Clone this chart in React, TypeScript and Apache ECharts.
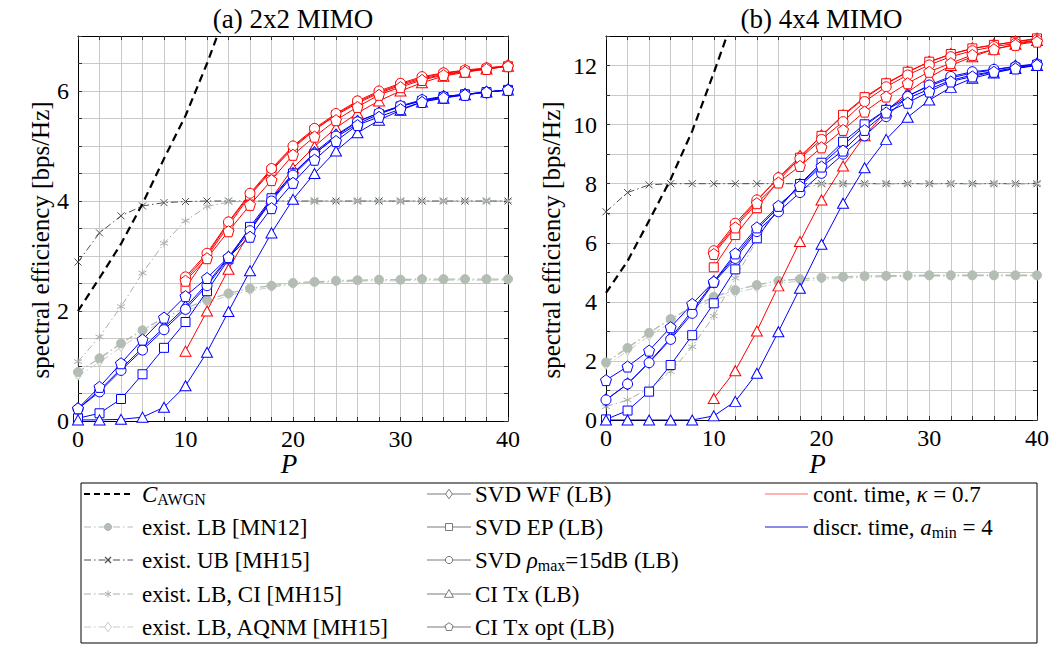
import React, { useEffect, useRef } from "react";
import * as echarts from "echarts";

// ---------- data ----------
const P_ALL = [0, 2, 4, 6, 8, 10, 12, 14, 16, 18, 20, 22, 24, 26, 28, 30, 32, 34, 36, 38, 40];
const P_CONT = [10, 12, 14, 16, 18, 20, 22, 24, 26, 28, 30, 32, 34, 36, 38, 40];
const X_TICK_LABELS = ["0", "10", "20", "30", "40"];

// (a) 2x2 MIMO
const A_AWGN_P = [0, 2, 4, 6, 8, 10, 12, 14];
const A_AWGN = [2.0, 2.6, 3.22, 3.95, 4.77, 5.55, 6.5, 7.55];
const A_MN12 = [0.89, 1.14, 1.41, 1.65, 1.88, 2.05, 2.2, 2.32, 2.41, 2.46, 2.51, 2.53, 2.55, 2.56, 2.57, 2.57, 2.58, 2.58, 2.58, 2.58, 2.58];
const A_UB = [2.89, 3.42, 3.73, 3.91, 3.97, 3.99, 4, 4, 4, 4, 4, 4, 4, 4, 4, 4, 4, 4, 4, 4, 4];
const A_CI = [1.08, 1.53, 2.08, 2.69, 3.23, 3.64, 3.9, 3.98, 4, 4, 4, 4, 4, 4, 4, 4, 4, 4, 4, 4, 4];
const A_AQNM = [0.82, 1.07, 1.34, 1.6, 1.83, 2.0, 2.15, 2.28, 2.37, 2.43, 2.48, 2.51, 2.53, 2.54, 2.55, 2.55, 2.56, 2.56, 2.56, 2.56, 2.56];
const A_CONT_WF = [2.58, 3.02, 3.6, 4.12, 4.57, 4.98, 5.3, 5.57, 5.8, 5.98, 6.12, 6.24, 6.32, 6.37, 6.41, 6.46];
const A_CONT_EP = [2.42, 2.99, 3.55, 4.1, 4.55, 4.96, 5.29, 5.56, 5.78, 5.96, 6.1, 6.22, 6.3, 6.36, 6.4, 6.45];
const A_CONT_RHO = [2.62, 3.05, 3.62, 4.14, 4.59, 5.0, 5.32, 5.59, 5.82, 6.0, 6.14, 6.26, 6.33, 6.38, 6.42, 6.46];
const A_CONT_CI = [1.27, 2.0, 2.76, 3.45, 4.05, 4.6, 4.99, 5.33, 5.6, 5.82, 6.0, 6.15, 6.27, 6.34, 6.4, 6.45];
const A_CONT_CIOPT = [2.55, 2.96, 3.45, 3.93, 4.38, 4.84, 5.17, 5.47, 5.71, 5.93, 6.07, 6.2, 6.29, 6.35, 6.4, 6.45];
const A_DISC_WF = [0.22, 0.56, 0.95, 1.33, 1.7, 2.07, 2.5, 2.98, 3.5, 4.02, 4.5, 4.88, 5.2, 5.45, 5.6, 5.72, 5.83, 5.9, 5.94, 5.98, 6.02];
const A_DISC_EP = [0.05, 0.14, 0.4, 0.85, 1.33, 1.8, 2.36, 2.94, 3.53, 4.05, 4.5, 4.86, 5.16, 5.4, 5.58, 5.72, 5.82, 5.89, 5.94, 5.98, 6.02];
const A_DISC_RHO = [0.22, 0.53, 0.92, 1.29, 1.66, 2.03, 2.46, 2.96, 3.46, 4.0, 4.47, 4.85, 5.18, 5.44, 5.6, 5.73, 5.84, 5.9, 5.94, 5.98, 6.02];
const A_DISC_CI = [0.02, 0.02, 0.03, 0.07, 0.25, 0.64, 1.25, 1.99, 2.73, 3.42, 4.03, 4.5, 4.91, 5.24, 5.47, 5.65, 5.8, 5.87, 5.93, 5.98, 6.02];
const A_DISC_CIOPT = [0.23, 0.62, 1.05, 1.48, 1.88, 2.27, 2.6, 2.98, 3.35, 3.87, 4.33, 4.75, 5.09, 5.38, 5.53, 5.67, 5.8, 5.88, 5.93, 5.98, 6.02];

// (b) 4x4 MIMO
const B_AWGN_P = [0, 2, 4, 6, 8, 10, 12];
const B_AWGN = [4.3, 5.38, 6.75, 8.15, 9.78, 11.75, 13.8];
const B_MN12 = [1.95, 2.44, 2.95, 3.42, 3.82, 4.17, 4.4, 4.57, 4.71, 4.77, 4.82, 4.85, 4.87, 4.88, 4.89, 4.9, 4.9, 4.9, 4.9, 4.9, 4.9];
const B_UB = [7.05, 7.7, 7.96, 8, 8, 8, 8, 8, 8, 8, 8, 8, 8, 8, 8, 8, 8, 8, 8, 8, 8];
const B_CI = [0.45, 0.68, 1.07, 1.64, 2.48, 3.52, 4.8, 6.1, 7.3, 7.85, 7.98, 8, 8, 8, 8, 8, 8, 8, 8, 8, 8];
const B_AQNM = [1.85, 2.33, 2.84, 3.3, 3.72, 4.06, 4.3, 4.48, 4.62, 4.7, 4.76, 4.8, 4.83, 4.85, 4.86, 4.87, 4.87, 4.88, 4.88, 4.88, 4.88];
const B_CONT_WF = [5.68, 6.58, 7.42, 8.2, 8.92, 9.62, 10.3, 10.9, 11.38, 11.78, 12.12, 12.38, 12.57, 12.7, 12.8, 12.9];
const B_CONT_EP = [5.17, 6.26, 7.17, 8.1, 8.88, 9.62, 10.33, 10.93, 11.4, 11.79, 12.13, 12.39, 12.58, 12.7, 12.81, 12.92];
const B_CONT_RHO = [5.73, 6.66, 7.45, 8.2, 8.85, 9.5, 10.1, 10.78, 11.28, 11.68, 12.02, 12.3, 12.5, 12.64, 12.75, 12.87];
const B_CONT_CI = [0.73, 1.67, 3.01, 4.54, 6.04, 7.45, 8.6, 9.62, 10.45, 11.1, 11.6, 12.0, 12.3, 12.55, 12.72, 12.85];
const B_CONT_CIOPT = [5.62, 6.52, 7.34, 8.04, 8.6, 9.23, 9.82, 10.44, 10.95, 11.4, 11.79, 12.08, 12.36, 12.55, 12.7, 12.81];
const B_DISC_WF = [0.68, 1.22, 1.96, 2.78, 3.7, 4.68, 5.55, 6.45, 7.2, 7.97, 8.65, 9.3, 9.95, 10.5, 10.98, 11.3, 11.58, 11.75, 11.85, 11.98, 12.05];
const B_DISC_EP = [0.02, 0.32, 0.96, 1.86, 2.87, 3.95, 5.1, 6.15, 7.15, 7.99, 8.71, 9.42, 10.01, 10.5, 10.89, 11.2, 11.5, 11.68, 11.8, 11.93, 12.03];
const B_DISC_RHO = [0.68, 1.22, 1.94, 2.73, 3.61, 4.65, 5.47, 6.38, 7.05, 7.7, 8.35, 9.0, 9.62, 10.27, 10.95, 11.34, 11.63, 11.79, 11.87, 11.96, 12.05];
const B_DISC_CI = [0, 0, 0, 0, 0, 0.14, 0.63, 1.58, 2.99, 4.46, 5.95, 7.34, 8.54, 9.5, 10.25, 10.83, 11.26, 11.57, 11.75, 11.9, 12.0];
const B_DISC_CIOPT = [1.35, 1.81, 2.35, 3.14, 3.93, 4.68, 5.64, 6.52, 7.25, 7.92, 8.58, 9.12, 9.82, 10.41, 10.74, 11.12, 11.46, 11.63, 11.79, 11.9, 12.02];

const TITLES = ["(a) 2x2 MIMO", "(b) 4x4 MIMO"];
const Y_NAME = "spectral efficiency [bps/Hz]";
const LEGEND_COL1 = ["{i|C}{s|AWGN}", "exist. LB [MN12]", "exist. UB [MH15]", "exist. LB, CI [MH15]", "exist. LB, AQNM [MH15]"];
const LEGEND_COL2 = ["SVD WF (LB)", "SVD EP (LB)", "SVD {i|ρ}{s|max}=15dB (LB)", "CI Tx (LB)", "CI Tx opt (LB)"];
const LEGEND_COL3 = ["cont. time, {i|κ} = 0.7", "discr. time, {i|a}{s|min} = 4"];

// ---------- styles ----------
const FONT = "'Liberation Serif', 'Times New Roman', serif";
const RED = "#ff0000";
const BLUE = "#0000ff";
const G_MN = "#b3bdb3";
const G_UB = "#4d4d4d";
const G_CI = "#a7b1a7";
const G_AQ = "#c6cdc6";

const PENTAGON = "path://M50,0L97.55,34.55L79.39,90.45L20.61,90.45L2.45,34.55Z";
const CROSS = "path://M0,0L10,10M10,0L0,10";
const STAR = "path://M5,0L5,10M0.67,2.5L9.33,7.5M0.67,7.5L9.33,2.5";
const DASHDOT = [7, 3, 1.5, 3];

const zip = (xs: number[], ys: number[]) => xs.map((x, i) => [x, ys[i]]);

function ln(gi: number, name: string, xs: number[], ys: number[], o: any) {
  return {
    type: "line",
    name,
    xAxisIndex: gi * 2,
    yAxisIndex: gi * 2,
    data: zip(xs, ys),
    symbol: o.symbol ?? "none",
    symbolSize: o.size ?? 8,
    showSymbol: o.symbol ? true : false,
    showAllSymbol: true,
    clip: true,
    silent: true,
    z: o.z ?? 3,
    lineStyle: { color: o.color, width: o.width ?? 1, type: o.type ?? "solid" },
    itemStyle: { color: o.fill ?? "#fff", borderColor: o.color, borderWidth: o.bw ?? 1 },
    emphasis: { disabled: true },
  };
}

const MARKS: Record<string, { symbol: string; size: any }> = {
  wf: { symbol: "diamond", size: [9, 12] },
  ep: { symbol: "rect", size: 9 },
  rho: { symbol: "circle", size: 10 },
  ci: { symbol: "triangle", size: [11, 10] },
  ciopt: { symbol: PENTAGON, size: 11 },
};

function seriesFor(gi: number, d: any) {
  const out: any[] = [];
  out.push(ln(gi, "aqnm", P_ALL, d.aqnm, { color: G_AQ, symbol: "diamond", size: [6, 8], type: DASHDOT, fill: "#fff", z: 2 }));
  out.push(ln(gi, "mn12", P_ALL, d.mn12, { color: G_MN, symbol: "circle", size: 9, type: DASHDOT, fill: G_MN, z: 2, width: 1.4 }));
  out.push(ln(gi, "ub", P_ALL, d.ub, { color: G_UB, symbol: CROSS, size: 7, type: DASHDOT, fill: "rgba(0,0,0,0)", z: 2 }));
  out.push(ln(gi, "ci_lb", P_ALL, d.ci, { color: G_CI, symbol: STAR, size: 8, type: DASHDOT, fill: "rgba(0,0,0,0)", z: 2 }));
  const keys = ["wf", "ep", "rho", "ci", "ciopt"];
  keys.forEach((k) => {
    out.push(ln(gi, "cont_" + k, P_CONT, d.cont[k], { color: RED, symbol: MARKS[k].symbol, size: MARKS[k].size, z: 3 }));
  });
  keys.forEach((k) => {
    out.push(ln(gi, "disc_" + k, P_ALL, d.disc[k], { color: BLUE, symbol: MARKS[k].symbol, size: MARKS[k].size, z: 4 }));
  });
  out.push(ln(gi, "awgn", d.awgnP, d.awgn, { color: "#000", width: 2.2, type: [8, 5], z: 5 }));
  return out;
}

const DATA_A = {
  awgnP: A_AWGN_P, awgn: A_AWGN, mn12: A_MN12, ub: A_UB, ci: A_CI, aqnm: A_AQNM,
  cont: { wf: A_CONT_WF, ep: A_CONT_EP, rho: A_CONT_RHO, ci: A_CONT_CI, ciopt: A_CONT_CIOPT },
  disc: { wf: A_DISC_WF, ep: A_DISC_EP, rho: A_DISC_RHO, ci: A_DISC_CI, ciopt: A_DISC_CIOPT },
};
const DATA_B = {
  awgnP: B_AWGN_P, awgn: B_AWGN, mn12: B_MN12, ub: B_UB, ci: B_CI, aqnm: B_AQNM,
  cont: { wf: B_CONT_WF, ep: B_CONT_EP, rho: B_CONT_RHO, ci: B_CONT_CI, ciopt: B_CONT_CIOPT },
  disc: { wf: B_DISC_WF, ep: B_DISC_EP, rho: B_DISC_RHO, ci: B_DISC_CI, ciopt: B_DISC_CIOPT },
};

const TICK = { show: true, inside: true, length: 4, lineStyle: { color: "#333", width: 1 } };
const AXLINE = { show: true, onZero: false, lineStyle: { color: "#000", width: 1 } };
const LABEL_FONT = { fontFamily: FONT, fontSize: 24, color: "#000" };

function xAxes(gi: number) {
  return [
    {
      type: "value", gridIndex: gi, min: 0, max: 40, interval: 2, position: "bottom",
      axisLine: AXLINE, axisTick: TICK,
      axisLabel: {
        ...LABEL_FONT, interval: 0, margin: 6,
        formatter: (v: number) => (X_TICK_LABELS.includes(String(v)) ? String(v) : ""),
      },
      splitLine: { show: true, lineStyle: { color: "#c9c9c9", width: 1 } },
    },
    {
      type: "value", gridIndex: gi, min: 0, max: 40, interval: 2, position: "top",
      axisLine: AXLINE, axisTick: TICK, axisLabel: { show: false }, splitLine: { show: false },
    },
  ];
}
function yAxes(gi: number, max: number, step: number) {
  return [
    {
      type: "value", gridIndex: gi, min: 0, max, interval: step, position: "left",
      axisLine: AXLINE, axisTick: TICK,
      axisLabel: {
        ...LABEL_FONT, interval: 0, margin: 9,
        formatter: (v: number) => (Math.abs(v % 2) < 1e-9 ? String(v) : ""),
      },
      splitLine: { show: true, lineStyle: { color: "#c9c9c9", width: 1 } },
    },
    {
      type: "value", gridIndex: gi, min: 0, max, interval: step, position: "right",
      axisLine: AXLINE, axisTick: TICK, axisLabel: { show: false }, splitLine: { show: false },
    },
  ];
}

// ---------- legend graphics ----------
const LEG = { x: 81, y: 483, w: 956, h: 160 };
const ROWS = [494, 527, 560, 594, 627];
const RICH = {
  i: { fontFamily: FONT, fontSize: 23, fontStyle: "italic", color: "#000" },
  s: { fontFamily: FONT, fontSize: 16, color: "#000", padding: [11, 0, 0, 0] },
};

function txt(x: number, y: number, text: string, extra: any = {}) {
  return {
    type: "text", x, y, silent: true,
    style: { text, fontFamily: FONT, fontSize: 23, fill: "#000", textVerticalAlign: "middle", rich: RICH, ...extra },
  };
}

function marker(kind: string, cx: number, cy: number, color: string, fill: string) {
  const st = { fill, stroke: color, lineWidth: 1 };
  if (kind === "circle") return { type: "circle", shape: { cx, cy, r: 3.6 }, style: st };
  if (kind === "diamond")
    return { type: "polygon", shape: { points: [[cx, cy - 4.8], [cx + 3.4, cy], [cx, cy + 4.8], [cx - 3.4, cy]] }, style: st };
  if (kind === "rect") return { type: "rect", shape: { x: cx - 3.5, y: cy - 3.5, width: 7, height: 7 }, style: st };
  if (kind === "triangle")
    return { type: "polygon", shape: { points: [[cx, cy - 4.5], [cx + 4.5, cy + 3.3], [cx - 4.5, cy + 3.3]] }, style: st };
  if (kind === "pentagon") {
    const pts: number[][] = [];
    for (let k = 0; k < 5; k++) {
      const a = -Math.PI / 2 + (k * 2 * Math.PI) / 5;
      pts.push([cx + 4.3 * Math.cos(a), cy + 4.3 * Math.sin(a)]);
    }
    return { type: "polygon", shape: { points: pts }, style: st };
  }
  if (kind === "cross")
    return {
      type: "group",
      children: [
        { type: "line", shape: { x1: cx - 3, y1: cy - 3, x2: cx + 3, y2: cy + 3 }, style: { stroke: color, lineWidth: 1.2 } },
        { type: "line", shape: { x1: cx + 3, y1: cy - 3, x2: cx - 3, y2: cy + 3 }, style: { stroke: color, lineWidth: 1.2 } },
      ],
    };
  // star
  return {
    type: "group",
    children: [
      { type: "line", shape: { x1: cx, y1: cy - 3.5, x2: cx, y2: cy + 3.5 }, style: { stroke: color, lineWidth: 1 } },
      { type: "line", shape: { x1: cx - 3, y1: cy - 1.8, x2: cx + 3, y2: cy + 1.8 }, style: { stroke: color, lineWidth: 1 } },
      { type: "line", shape: { x1: cx - 3, y1: cy + 1.8, x2: cx + 3, y2: cy - 1.8 }, style: { stroke: color, lineWidth: 1 } },
    ],
  };
}

function legendGraphics() {
  const g: any[] = [];
  g.push({ type: "rect", shape: { x: LEG.x, y: LEG.y, width: LEG.w, height: LEG.h }, style: { fill: "#fff", stroke: "#000", lineWidth: 1 } });
  const c1 = [
    { color: "#000", dash: [6, 4], width: 2, mk: null, fill: "" },
    { color: G_MN, dash: DASHDOT, width: 1, mk: "circle", fill: G_MN },
    { color: G_UB, dash: DASHDOT, width: 1, mk: "cross", fill: "none" },
    { color: G_CI, dash: DASHDOT, width: 1, mk: "star", fill: "none" },
    { color: G_AQ, dash: DASHDOT, width: 1, mk: "diamond", fill: "#fff" },
  ];
  c1.forEach((e, i) => {
    g.push({ type: "line", shape: { x1: 84, y1: ROWS[i], x2: 133, y2: ROWS[i] }, style: { stroke: e.color, lineWidth: e.width, lineDash: e.dash } });
    if (e.mk) g.push(marker(e.mk, 108, ROWS[i], e.color, e.fill));
    g.push(txt(142, ROWS[i], LEGEND_COL1[i]));
  });
  const c2 = ["diamond", "rect", "circle", "triangle", "pentagon"];
  c2.forEach((k, i) => {
    g.push({ type: "line", shape: { x1: 427, y1: ROWS[i], x2: 471, y2: ROWS[i] }, style: { stroke: "#7a7a7a", lineWidth: 1 } });
    g.push(marker(k, 449, ROWS[i], "#7a7a7a", "#fff"));
    g.push(txt(475, ROWS[i], LEGEND_COL2[i]));
  });
  const c3 = ["#ff6a6a", "#1a1ad0"];
  c3.forEach((c, i) => {
    g.push({ type: "line", shape: { x1: 765, y1: ROWS[i], x2: 808, y2: ROWS[i] }, style: { stroke: c, lineWidth: 1.2 } });
    g.push(txt(813, ROWS[i], LEGEND_COL3[i]));
  });
  return g;
}

const GRIDS = [
  { left: 78, top: 36, width: 430, height: 385 },
  { left: 606, top: 36, width: 431, height: 384 },
];

function buildOption() {
  const graphic: any[] = [];
  GRIDS.forEach((gr, i) => {
    const cx = gr.left + gr.width / 2;
    graphic.push(txt(cx, 19, TITLES[i], { textAlign: "center", fontSize: 27 }));
    graphic.push(txt(cx - 4, 464, "P", { textAlign: "center", fontSize: 27, fontStyle: "italic" }));
  });
  [40, 551].forEach((x) => {
    graphic.push({
      type: "text", x, y: 240, rotation: Math.PI / 2, silent: true,
      style: { text: Y_NAME, fontFamily: FONT, fontSize: 25, fill: "#000", textAlign: "center", textVerticalAlign: "middle" },
    });
  });
  graphic.push(...legendGraphics());

  return {
    animation: false,
    backgroundColor: "#fff",
    grid: GRIDS.map((g) => ({ ...g, containLabel: false })),
    xAxis: [...xAxes(0), ...xAxes(1)],
    yAxis: [...yAxes(0, 7, 0.5), ...yAxes(1, 13, 1)],
    series: [...seriesFor(0, DATA_A), ...seriesFor(1, DATA_B)],
    graphic,
  };
}

export default function App() {
  const ref = useRef<HTMLDivElement>(null);
  useEffect(() => {
    if (!ref.current) return;
    const chart = echarts.init(ref.current, null, { renderer: "svg" });
    chart.setOption(buildOption() as any);
    return () => chart.dispose();
  }, []);
  return (
    <div
      ref={ref}
      style={{ position: "absolute", left: 0, top: 0, width: 1053, height: 648, background: "#fff" }}
    />
  );
}
